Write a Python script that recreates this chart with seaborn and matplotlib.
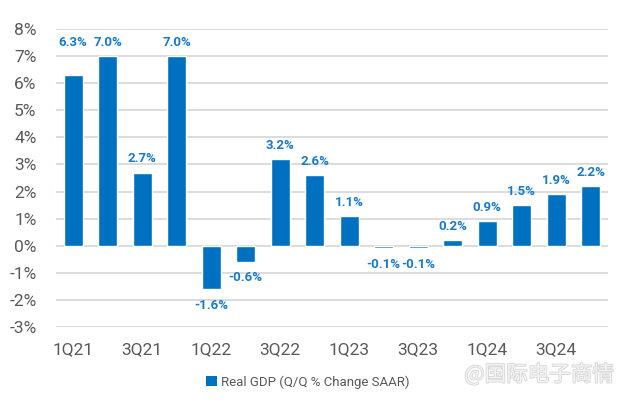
import matplotlib
matplotlib.use("Agg")
import matplotlib.pyplot as plt
import matplotlib.patheffects as pe
import seaborn as sns
import pandas as pd
from matplotlib.patches import Patch

quarters = ["1Q21", "2Q21", "3Q21", "4Q21", "1Q22", "2Q22", "3Q22", "4Q22",
            "1Q23", "2Q23", "3Q23", "4Q23", "1Q24", "2Q24", "3Q24", "4Q24"]
gdp = [6.3, 7.0, 2.7, 7.0, -1.6, -0.6, 3.2, 2.6, 1.1, -0.1, -0.1, 0.2, 0.9, 1.5, 1.9, 2.2]
yticks = [-3, -2, -1, 0, 1, 2, 3, 4, 5, 6, 7, 8]
series_name = "Real GDP (Q/Q % Change SAAR)"

sns.set_theme(style="white")
plt.rcParams["font.family"] = ["Roboto", "DejaVu Sans"]

df = pd.DataFrame({"quarter": quarters, "gdp": gdp})

fig = plt.figure(figsize=(6.35, 4.09), dpi=100)
ax = fig.add_axes([56/635, 82/409, 552/635, 298/409])

bar_color = "#0070C0"
sns.barplot(data=df, x="quarter", y="gdp", color=bar_color, width=0.56,
            saturation=1, ax=ax, zorder=3)

ax.set_ylim(-3, 8)
ax.set_xlim(-0.5, len(quarters) - 0.5)
ax.set_yticks(yticks)
ax.set_yticklabels([f"{v}%" for v in yticks], fontsize=12.5, color="#595959")
ax.set_xticks(range(0, len(quarters), 2))
ax.set_xticklabels(quarters[::2], fontsize=12.5, color="#595959")
ax.tick_params(axis="both", length=0)
ax.tick_params(axis="y", pad=14)
ax.tick_params(axis="x", pad=11)
for s in ax.spines.values():
    s.set_visible(False)
ax.grid(axis="y", color="#d9d9d9", linewidth=1.3, zorder=0)
ax.set_xlabel("")
ax.set_ylabel("")

label_color = "#1a7ac8"
for i, v in enumerate(gdp):
    if v >= 0:
        y = v
        # first label shares the height of its taller neighbour
        if i == 0:
            y = max(v, gdp[1])
        ax.annotate(f"{v:.1f}%", (i, y), xytext=(0, 10), textcoords="offset points",
                    ha="center", va="center", fontsize=9.5, fontweight="bold",
                    color=label_color)
    else:
        ax.annotate(f"{v:.1f}%", (i, v), xytext=(0, -11.5), textcoords="offset points",
                    ha="center", va="center", fontsize=9.5, fontweight="bold",
                    color=label_color)

# legend
handles = [Patch(facecolor=bar_color, edgecolor="none", label=series_name)]
fig.legend(handles=handles, loc="center", bbox_to_anchor=(308/635, 1 - 382/409),
           frameon=False, fontsize=9.5, handlelength=0.8, handleheight=0.8,
           handletextpad=0.3, labelcolor="#595959")

# watermark
fig.text(539/635, 1 - 375/409, "@国际电子商情", ha="center", va="center",
         fontsize=15.5, color="#f4f4f4", family=["Noto Sans CJK SC", "DejaVu Sans"],
         path_effects=[pe.withStroke(linewidth=1.2, foreground="#d6d6d6")])

fig.savefig("out.png", dpi=100)
